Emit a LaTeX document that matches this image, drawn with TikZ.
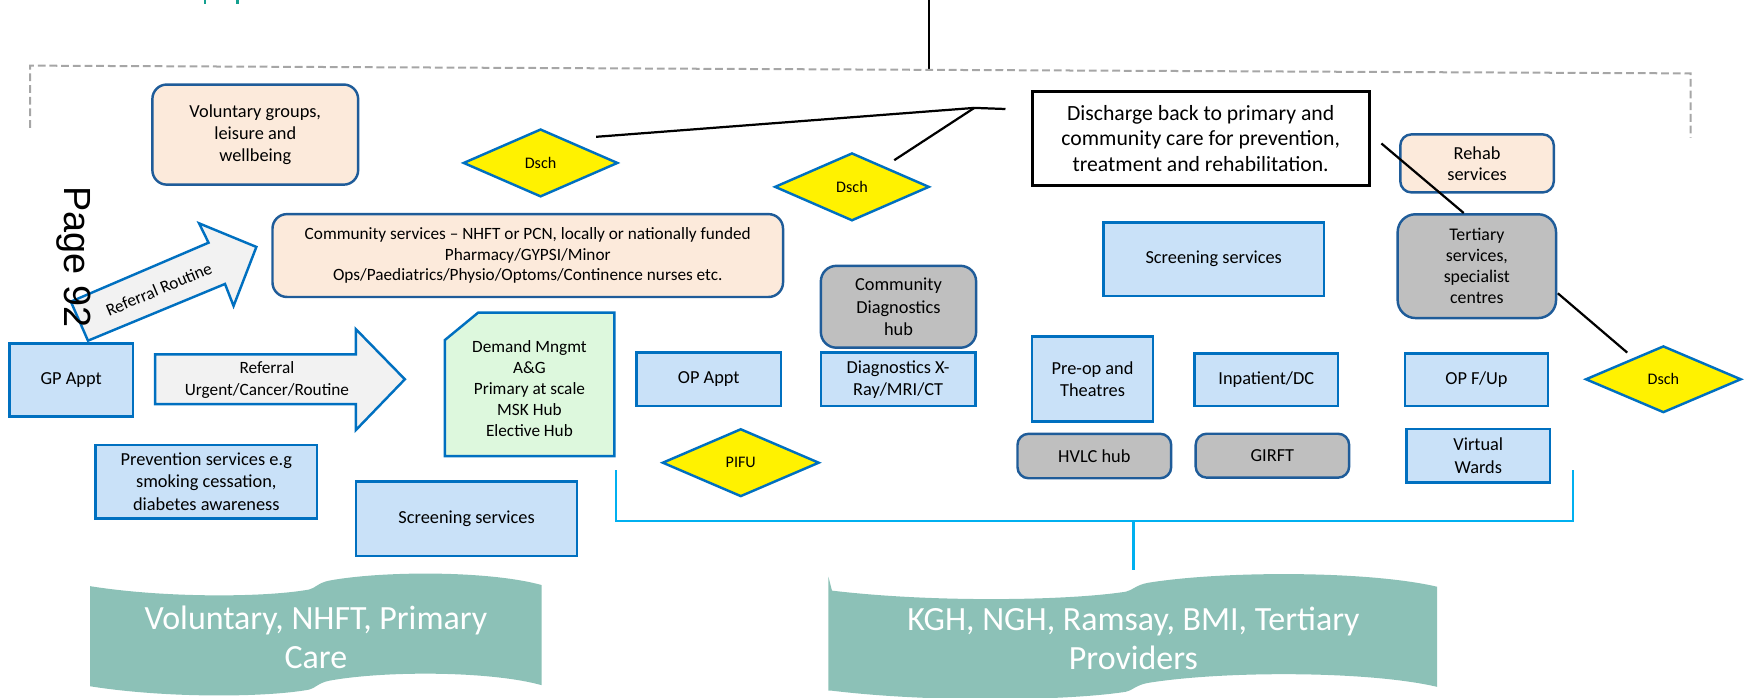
\documentclass[tikz,border=0pt]{standalone}
\usepackage{fontspec}
\setmainfont{Carlito}
\newfontfamily\stampfont{Liberation Sans}
\usetikzlibrary{shapes.geometric}

\definecolor{boxblue}{HTML}{0070C0}
\definecolor{darkblue}{HTML}{1F5C99}
\definecolor{lightblue}{HTML}{C9E1F8}
\definecolor{peach}{HTML}{FCEADB}
\definecolor{midgray}{HTML}{BFBFBF}
\definecolor{mint}{HTML}{DDF8DD}
\definecolor{arrowgray}{HTML}{F2F2F2}
\definecolor{bannerteal}{HTML}{8CC1B7}
\definecolor{bracketcyan}{HTML}{00B0F0}
\definecolor{dashgray}{HTML}{A6A6A6}
\definecolor{titleteal}{HTML}{14A090}

\tikzset{
  txt/.style={font=\fontsize{16.5}{20}\selectfont},
  sqbox/.style={draw=boxblue, fill=lightblue, line width=2.2pt, align=center, inner sep=0pt, txt},
  rbox/.style={draw=darkblue, line width=2.2pt, rounded corners=13pt, align=center, inner sep=0pt, txt},
  peachbox/.style={rbox, fill=peach},
  graybox/.style={rbox, fill=midgray},
  dschnode/.style={diamond, aspect=2.3, draw=boxblue, fill=yellow, line width=2.2pt, inner sep=0pt,
    minimum width=139pt, minimum height=61pt, font=\fontsize{14.5}{17}\selectfont},
  bigarrow/.style={draw=boxblue, fill=arrowgray, line width=2.2pt, line join=miter},
  link/.style={black, line width=2pt},
  bracket/.style={bracketcyan, line width=2pt},
  bannertext/.style={white, align=center, font=\fontsize{30.5}{34.5}\selectfont},
}

\begin{document}
\begin{tikzpicture}[x=1pt, y=-1pt]
\useasboundingbox (0,0) rectangle (1568,627);
\clip (0,0) rectangle (1568,627);

% fragments of the heading cut off at the top edge
\fill[titleteal] (183,0) rectangle (185.5,3.5);
\fill[titleteal] (212,0) rectangle (214.5,3.5);

% top stem and dashed grouping bracket
\coordinate (topstem) at (835,0);
\coordinate (topfoot) at (835,63);
\draw[link] (topstem) -- (topfoot);
\draw[dashgray, line width=1.8pt, dash pattern=on 7pt off 3.5pt]
  (27,115) -- (27,59) -- (1520,66) -- (1520,124);

% primary / community side
\node[peachbox, minimum width=185pt, minimum height=90pt] (vol) at (229.5,121)
  {Voluntary groups,\\ leisure and\\ wellbeing};
\node[peachbox, minimum width=459pt, minimum height=74.5pt, font=\fontsize{15.5}{18.5}\selectfont] (comm) at (474.5,229.75)
  {Community services -- NHFT or PCN, locally or nationally funded\\ Pharmacy/GYPSI/Minor\\ Ops/Paediatrics/Physio/Optoms/Continence nurses etc.};
\node[sqbox, minimum width=110.8pt, minimum height=65.9pt] (gp) at (64,341.6) {GP Appt};
\node[sqbox, minimum width=199pt, minimum height=66pt] (prev) at (185.5,433)
  {Prevention services e.g\\ smoking cessation,\\ diabetes awareness};
\node[sqbox, minimum width=199pt, minimum height=67pt] (scrL) at (419.5,466.5) {Screening services};

% referral arrows
\draw[bigarrow] (63.7,271.2) -- (187.5,218.2) -- (179,200.8) -- (230.5,222) -- (210,275.1)
  -- (202.3,255.3) -- (79.1,306.3) -- cycle;
\node[rotate=22.8, font=\fontsize{15.5}{18}\selectfont] (refroutine) at (142.8,260) {Referral Routine};
\draw[bigarrow] (139.4,318.6) -- (320,318.6) -- (320,296) -- (364,341) -- (320,386.6)
  -- (320,363.3) -- (139.4,363.3) -- cycle;
\node[align=center, font=\fontsize{15.5}{19.2}\selectfont] (refurgent) at (240,341.5)
  {Referral\\ Urgent/Cancer/Routine};

% demand management box with a cut corner
\draw[draw=boxblue, fill=mint, line width=2.2pt] (400,305.7) -- (430,281) -- (552.4,281)
  -- (552.4,410) -- (400,410) -- cycle;
\node[align=center, font=\fontsize{15.5}{19}\selectfont] (demand) at (476,349.5)
  {Demand Mngmt\\ A\&G\\ Primary at scale\\ MSK Hub\\ Elective Hub};

% acute / provider side
\node[sqbox, minimum width=129.6pt, minimum height=48pt] (opappt) at (637.2,341) {OP Appt};
\node[graybox, minimum width=139.6pt, minimum height=73.6pt, rounded corners=14pt] (cdh) at (807.8,275.8)
  {Community\\ Diagnostics\\ hub};
\node[sqbox, minimum width=139pt, minimum height=48pt] (diag) at (807.5,341)
  {Diagnostics X-\\ Ray/MRI/CT};
\node[sqbox, minimum width=198.5pt, minimum height=66pt] (scrR) at (1091.2,233) {Screening services};
\node[sqbox, minimum width=108.7pt, minimum height=76.3pt] (preop) at (982.3,340.8)
  {Pre-op and\\ Theatres};
\node[graybox, minimum width=138.2pt, minimum height=40pt, rounded corners=10pt] (hvlc) at (983.9,410) {HVLC hub};
\node[sqbox, minimum width=129pt, minimum height=47.3pt] (inpat) at (1138.5,341.3) {Inpatient/DC};
\node[graybox, minimum width=138pt, minimum height=39.5pt, rounded corners=10pt] (girft) at (1144,409.7) {GIRFT};
\node[peachbox, minimum width=138pt, minimum height=52.2pt, rounded corners=10pt, font=\fontsize{16.5}{19}\selectfont] (rehab) at (1328,146.9)
  {Rehab\\ services};
\node[graybox, minimum width=142.4pt, minimum height=93.3pt, rounded corners=16pt, font=\fontsize{16}{19}\selectfont] (tert) at (1327.8,239.3)
  {Tertiary\\ services,\\ specialist\\ centres};
\node[sqbox, minimum width=129pt, minimum height=47pt] (opfup) at (1327.5,341.5) {OP F/Up};
\node[sqbox, minimum width=128.9pt, minimum height=48pt] (vw) at (1329.1,409.7) {Virtual\\ Wards};

\node[draw=black, fill=white, line width=2.4pt, minimum width=303pt, minimum height=85pt, inner sep=0pt,
  align=center, font=\fontsize{19.5}{23}\selectfont] (dischbox) at (1079.5,124.5)
  {Discharge back to primary and\\ community care for prevention,\\ treatment and rehabilitation.};

% decision diamonds
\node[dschnode] (dsch1) at (486,146.5) {Dsch};
\node[dschnode] (dsch2) at (766,168) {Dsch};
\node[dschnode, minimum width=140pt, minimum height=60pt] (dsch3) at (1495.5,341) {Dsch};
\node[dschnode, minimum width=141pt] (pifu) at (666,416) {PIFU};

% discharge connectors
\coordinate (j1) at (876,97);
\coordinate (j1end) at (904,98);
\coordinate (d1tip) at (536,123);
\coordinate (d2tip) at (804,144);
\coordinate (dbout) at (1242,129);
\coordinate (tertin) at (1316,191.5);
\coordinate (tertout) at (1400.6,263.7);
\coordinate (d3tip) at (1463,317);
\draw[link] (d1tip) -- (j1) -- (j1end);
\draw[link] (d2tip) -- (j1);
\draw[link] (dbout) -- (tertin);
\draw[link] (tertout) -- (d3tip);

% provider bracket
\coordinate (brl) at (554,423);
\coordinate (brr) at (1414,423);
\coordinate (brm) at (1019,468.5);
\coordinate (brfoot) at (1019,512.5);
\draw[bracket] (brl) -- ++(0,45.5) -| (brr);
\draw[bracket] (brm) -- (brfoot);

% scroll banners
\fill[bannerteal] (81,527) .. controls (150,538) and (240,537) .. (278,530)
  .. controls (283,529) and (286,524) .. (296,522)
  .. controls (345,513) and (440,513) .. (487,526) -- (487,616)
  .. controls (440,603) and (345,603) .. (296,612)
  .. controls (286,614) and (283,619) .. (278,620)
  .. controls (240,627) and (150,628) .. (81,617) -- cycle;
\node[bannertext] (banner1) at (284,573) {Voluntary, NHFT, Primary\\ Care};

\fill[bannerteal] (744.8,518.5) -- (748,531) .. controls (840,542) and (960,540) .. (1012,532)
  .. controls (1018,531) and (1021,526) .. (1032,524)
  .. controls (1100,513) and (1230,513) .. (1292,527.5) -- (1292,617.5)
  .. controls (1230,603) and (1100,603) .. (1032,614)
  .. controls (1021,616) and (1018,621) .. (1012,622)
  .. controls (960,630) and (840,632) .. (748,621) -- (744.8,621) -- cycle;
\node[bannertext] (banner2) at (1019,574) {KGH, NGH, Ramsay, BMI, Tertiary\\ Providers};

% page stamp
\node[rotate=-90, font=\stampfont\fontsize{34}{40}\selectfont, inner sep=0pt] (pagestamp) at (66,231) {Page 92};
\end{tikzpicture}
\end{document}
